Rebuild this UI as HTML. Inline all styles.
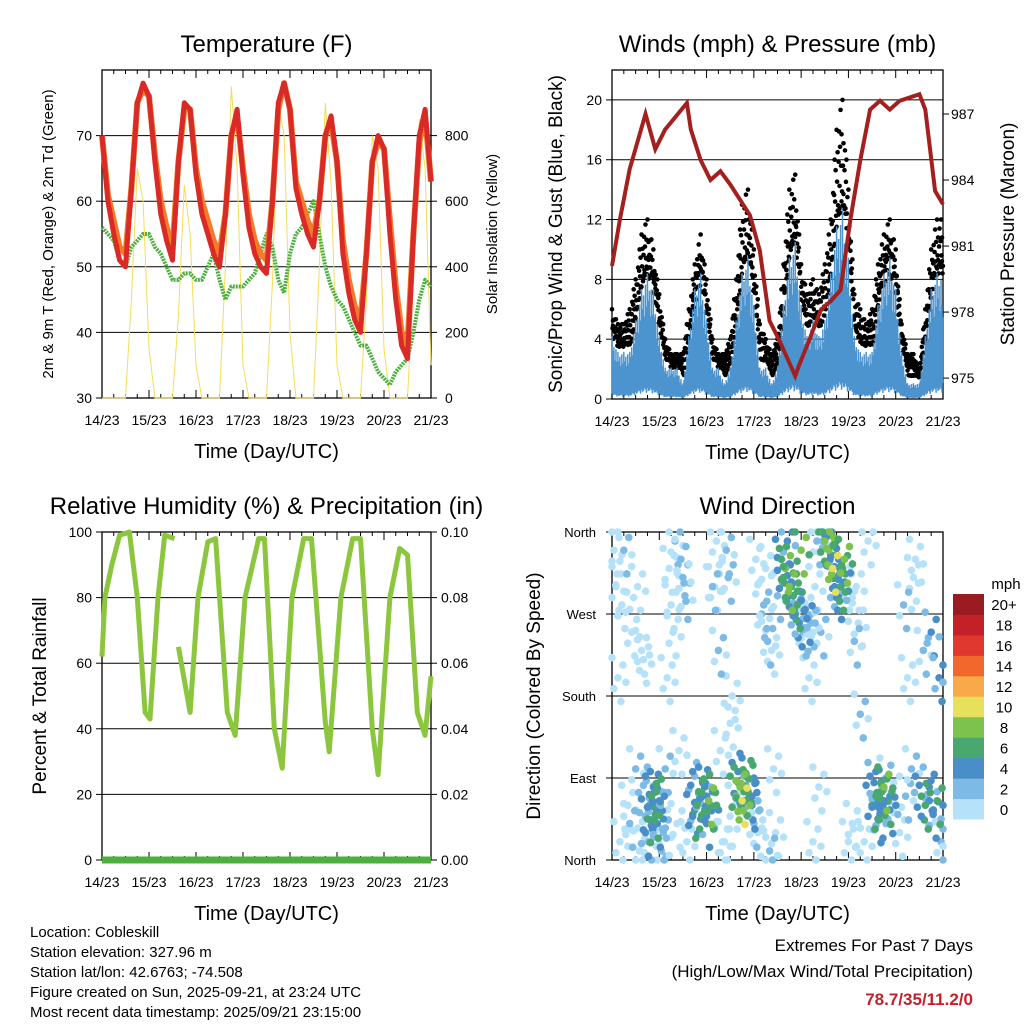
<!DOCTYPE html>
<html><head><meta charset="utf-8"><style>
body{margin:0;background:#fff;width:1024px;height:1024px;overflow:hidden;font-family:"Liberation Sans",sans-serif}
svg text{font-family:"Liberation Sans",sans-serif}
</style></head><body>
<svg id="c" width="1024" height="1024" xmlns="http://www.w3.org/2000/svg"></svg>
<script>
// ---- Temperature (3-hourly from 14/23) ----
const tempRed=[70,60,55,51,50,62,75,78,76,66,58,54,51,66,75,74,64,58,55,52,50,58,70,74,64,56,52,50,49,60,75,78,74,62,58,55,53,60,70,73,66,52,46,42,40,52,66,70,68,55,45,38,36,55,70,74,63];
const tempOrange=[70,61,57,53,52,62,75,77,76,67,60,56,53,66,74,74,65,60,57,54,52,58,70,73,65,58,54,52,51,60,74,78,74,63,60,57,55,60,70,72,66,54,48,44,42,52,66,69,68,57,47,40,38,55,69,73,63];
const dewGreen=[56,55,54,51,50,53,54,55,55,53,52,50,48,48,49,49,48,48,50,52,48,45,47,47,47,48,49,52,55,53,48,46,52,55,56,58,60,55,50,47,45,44,42,40,38,38,36,34,33,32,34,35,36,40,45,48,47];
const solar=[0,0,0,0,0,300,700,600,150,0,0,0,0,250,650,500,100,0,0,0,0,400,950,700,100,0,0,0,0,350,900,800,200,0,0,0,0,400,900,650,100,0,0,0,0,300,800,700,150,0,0,0,0,350,850,700,100];
// ---- Winds (3-hourly) ----
const gust=[6,5,5,6,8,11,12,10,7,4,3,3,3,6,9,11,8,4,3,3,4,8,13,14,10,5,4,3,4,9,14,15,9,7,8,7,9,12,18,20,14,7,6,5,6,9,11,12,10,5,3,3,2,6,10,12,12];
const wind=[4,3,3,3,5,7,8,7,4,2,2,2,1,4,7,8,5,2,2,1,2,5,8,9,6,2,2,1,2,6,9,10,6,4,5,4,5,8,11,12,9,4,3,3,3,6,8,9,7,3,1,1,1,4,7,8,8];
const presHour=[0,4,9,17,22,27,38,40,45,50,55,60,65,70,75,80,85,93,95,100,106,111,116,121,126,131,136,141,146,156,159,164,168];
const presMb=[980.1,982.2,984.5,987.0,985.4,986.3,987.5,986.3,984.9,984.0,984.4,983.8,983.1,982.4,980.8,977.6,976.7,975.1,975.6,976.7,978.1,978.5,979.0,982.2,984.9,987.2,987.6,987.2,987.6,987.9,987.2,983.5,982.9];
// ---- RH ----
const rhHour=[0,1.5,5,9,14,18,22,24.5,28.6,32,37,null,39,45,49,54,58,64,68,73,80,83,88,92,97,103,107,114,116,122,128,132,138,141,147,152,156,161,165,168];
const rhVal=[62,80,90,99,100,80,45,43,80,99,98,null,65,45,80,97,98,45,38,80,98,98,40,28,80,98,98,42,33,80,98,98,40,26,80,95,93,45,38,56];
const precip=[0,0];
// ---- Wind direction ----
const wdHour=[17,18,19,20,21,22,23,18.5,20.5,22.5,41,43,45,47,49,42,44,46,48,50,63,65,67,69,71,64,66,68,70,86,88,90,92,94,96,87,89,91,93,95,97,98,99,108,110,112,114,116,118,109,111,113,115,117,132,134,136,138,140,133,135,137,139,141,157,159,161,163,165,158,162,166,
2,4,6,8,10,12,14,26,28,30,32,34,36,38,52,54,56,58,60,74,76,78,80,82,84,100,102,104,106,122,124,126,128,130,146,148,150,152,154,167,3,15,27,55,79,103,125,149,153,35,1,5,9,13,16,24,25,29,31,33,37,51,53,57,59,61,62,72,73,77,81,83,101,105,107,119,120,123,127,129,142,143,145,147,151,155,160,164,168];
const wdDir=[30,45,60,70,80,50,40,20,65,75,50,60,70,80,65,55,75,85,40,60,70,80,75,90,60,85,65,95,70,330,320,300,290,280,340,310,350,300,270,260,250,255,265,350,340,320,310,300,330,355,335,300,290,320,60,70,50,80,65,85,45,75,90,55,70,60,80,50,65,230,250,200,
300,20,340,60,250,100,10,30,200,280,350,120,310,20,300,230,20,340,150,30,270,320,10,100,290,200,20,350,250,40,300,160,20,350,30,280,200,100,330,20,200,230,100,120,240,300,260,70,310,330,340,280,40,300,220,60,10,320,250,40,290,300,350,20,310,180,60,40,330,280,230,30,260,80,350,300,20,240,60,40,300,270];
const wdSpd=[5,6,4,7,5,6,4,3,5,6,6,7,5,6,8,4,6,5,4,7,8,9,7,6,5,7,10,6,4,7,8,9,6,7,8,6,5,7,4,4,3,3,4,9,8,10,7,6,8,5,6,5,4,7,6,7,5,8,6,4,5,6,3,4,6,7,5,4,6,3,4,4,
1,0,2,1,0,3,1,2,0,1,2,1,3,0,1,2,0,3,1,1,2,0,3,1,2,0,1,2,3,1,0,2,1,0,1,2,0,3,1,2,0,1,3,0,2,1,0,2,1,3,1,0,2,1,0,3,2,1,0,1,2,3,0,1,2,1,0,3,1,2,0,1,3,0,2,1,0,2];
const spdLabels=["0","2","4","6","8","10","12","14","16","18","20+"];
const spdColors=["#b5e2f8","#7dbbe6","#4a8ec8","#48a86f","#7dc24d","#e6e05a","#f8a94a","#f2672c","#e0372f","#c4202a","#9b1c20"];
const dayLabels=["14/23","15/23","16/23","17/23","18/23","19/23","20/23","21/23"];

const svg=document.getElementById('c');const NS="http://www.w3.org/2000/svg";
function el(t,a,p){const e=document.createElementNS(NS,t);for(const k in a)e.setAttribute(k,a[k]);(p||svg).appendChild(e);return e;}
function txt(s,x,y,size,anchor,extra){const e=el('text',Object.assign({x:x,y:y,'font-size':size,'text-anchor':anchor||'middle',fill:'#000'},extra||{}));e.textContent=s;return e;}
function lin(d0,d1,r0,r1){return v=>r0+(v-d0)/(d1-d0)*(r1-r0);}

function frame(name,x0,y0,x1,y1,title,xl){
  const g=el('g',{});
  
  
  el('rect',{x:x0,y:y0,width:x1-x0,height:y1-y0,fill:'none',stroke:'#000','stroke-width':1.3},g);
  const t=txt(title,(x0+x1)/2,54,24);t.setAttribute('y',y0-18);
  
  
  const sx=lin(0,168,x0,x1);
  dayLabels.forEach((d,i)=>{const x=sx(i*24);
    el('line',{x1:x,x2:x,y1:y1,y2:y1-8,stroke:'#000'},g);el('line',{x1:x,x2:x,y1:y0,y2:y0+8,stroke:'#000'},g);
    for(let k=1;k<4&&i<7;k++){const xm=sx(i*24+k*6);el('line',{x1:xm,x2:xm,y1:y1,y2:y1-4,stroke:'#000'},g);el('line',{x1:xm,x2:xm,y1:y0,y2:y0+4,stroke:'#000'},g);}
    const l=txt(d,x,y1+27,14);
    
    });
  const xt=txt(xl,(x0+x1)/2,y1+60,20);
  
  
  return sx;
}
function grid(x0,x1,y){el('line',{x1:x0,x2:x1,y1:y,y2:y,stroke:'#000','stroke-width':1});}
function ylab(s,x,y,size){const e=txt(s,x,y,size,'middle',{transform:`rotate(-90 ${x} ${y})`});}
function pathFrom(xs,ys){let d='',pen=false;for(let i=0;i<xs.length;i++){if(xs[i]==null||ys[i]==null){pen=false;continue;}d+=(pen?'L':'M')+xs[i].toFixed(1)+' '+ys[i].toFixed(1);pen=true;}return d;}

// ===== Panel 1: Temperature =====
(function(){
  const X0=102,X1=431,Y0=70,Y1=398;
  const sx=frame('temperature-panel',X0,Y0,X1,Y1,'Temperature (F)','Time (Day/UTC)');
  const sy=lin(30,80,Y1,Y0), ss=lin(0,1000,Y1,Y0);
  [40,50,60,70].forEach(v=>grid(X0,X1,sy(v)));
  [30,40,50,60,70].forEach(v=>{el('line',{x1:X0,x2:X0-6,y1:sy(v),y2:sy(v),stroke:'#000'});txt(String(v),X0-10,sy(v)+5,14,'end');});
  [0,200,400,600,800].forEach(v=>{el('line',{x1:X1,x2:X1+6,y1:ss(v),y2:ss(v),stroke:'#000'});txt(String(v),X1+14,ss(v)+5,14,'start');});
  ylab('2m & 9m T (Red, Orange) & 2m Td (Green)',53,234,15);
  ylab('Solar Insolation (Yellow)',497,234,15);
  const hrs=tempRed.map((_,i)=>i*3);
  const ps=el('path',{d:pathFrom(hrs.map(sx),solar.map(ss)),fill:'none',stroke:'#f5dc5a','stroke-width':1});
  
  const pg=el('path',{d:pathFrom(hrs.map(sx),dewGreen.map(sy)),fill:'none',stroke:'#4db03e','stroke-width':4,'stroke-dasharray':'2 1','stroke-linejoin':'round'});
  
  const po=el('path',{d:pathFrom(hrs.map(sx),tempOrange.map(sy)),fill:'none',stroke:'#f47a2a','stroke-width':6,'stroke-linejoin':'round'});
  
  const pr=el('path',{d:pathFrom(hrs.map(sx),tempRed.map(sy)),fill:'none',stroke:'#d92a25','stroke-width':5,'stroke-linejoin':'round'});
  
})();

// ===== Panel 2: Winds & Pressure =====
(function(){
  const X0=612,X1=943,Y0=70,Y1=399;
  const sx=frame('winds-panel',X0,Y0,X1,Y1,'Winds (mph) & Pressure (mb)','Time (Day/UTC)');
  const sy=lin(0,22,Y1,Y0), sp=lin(974.05,989,Y1,Y0);
  [4,8,12,16,20].forEach(v=>grid(X0,X1,sy(v)));
  [0,4,8,12,16,20].forEach(v=>{el('line',{x1:X0,x2:X0-6,y1:sy(v),y2:sy(v),stroke:'#000'});txt(String(v),X0-10,sy(v)+5,14,'end');});
  [975,978,981,984,987].forEach(v=>{el('line',{x1:X1,x2:X1+6,y1:sp(v),y2:sp(v),stroke:'#000'});txt(String(v),X1+8,sp(v)+5,14,'start');});
  ylab('Sonic/Prop Wind & Gust (Blue, Black)',562,234,19);
  ylab('Station Pressure (Maroon)',1014,234,19);
  const hrs=gust.map((_,i)=>i*3);
  const gg=el('g',{});
  const bg=el('g',{});
  const fac=[1,0.55,0.8,0.35,0.9,0.6,0.7,0.45,0.95,0.5,0.75,0.65];
  const gf=[1,0.8,0.9,0.7,0.85,0.95,0.75,0.88];
  for(let i=0;i<gust.length-1;i++){
    for(let k=0;k<12;k++){const f=k/12;const h=hrs[i]+f*3;
      const gv=gust[i]+(gust[i+1]-gust[i])*f, wv=wind[i]+(wind[i+1]-wind[i])*f;
      const xx=sx(h);
      el('circle',{cx:xx,cy:sy(Math.max(wv*0.8,gv*gf[k%8])),r:2.3,fill:'#000'},gg);
      if(k%2==0) el('circle',{cx:xx+1,cy:sy(wv*(0.9+0.2*fac[k])+0.5),r:2.2,fill:'#000'},gg);
      el('line',{x1:xx,x2:xx,y1:sy(wv*0.15*fac[(k+5)%12]),y2:sy(wv*fac[k]*1.05),stroke:'#4d94cf','stroke-width':1.5},bg);
    }
  }
  svg.appendChild(bg);
  const pp=el('path',{d:pathFrom(presHour.map(sx),presMb.map(sp)),fill:'none',stroke:'#a3201f','stroke-width':4});
  
})();

// ===== Panel 3: RH =====
(function(){
  const X0=102,X1=431,Y0=532,Y1=860;
  const sx=frame('humidity-panel',X0,Y0,X1,Y1,'Relative Humidity (%) & Precipitation (in)','Time (Day/UTC)');
  const sy=lin(0,100,Y1,Y0), sr=lin(0,0.1,Y1,Y0);
  [20,40,60,80].forEach(v=>grid(X0,X1,sy(v)));
  [0,20,40,60,80,100].forEach(v=>{el('line',{x1:X0,x2:X0-6,y1:sy(v),y2:sy(v),stroke:'#000'});txt(String(v),X0-10,sy(v)+5,14,'end');});
  [0,0.02,0.04,0.06,0.08,0.1].forEach(v=>{el('line',{x1:X1,x2:X1+6,y1:sr(v),y2:sr(v),stroke:'#000'});txt(v.toFixed(2),X1+10,sr(v)+5,14,'start');});
  ylab('Percent & Total Rainfall',46,696,19);
  const pr=el('path',{d:pathFrom([sx(0),sx(168)],precip.map(sr)),fill:'none',stroke:'#4db03e','stroke-width':7});
  
  const ph=el('path',{d:pathFrom(rhHour.map(h=>h==null?null:sx(h)),rhVal.map(v=>v==null?null:sy(v))),fill:'none',stroke:'#8cc63f','stroke-width':5,'stroke-linejoin':'round'});
  
})();

// ===== Panel 4: Wind Direction =====
(function(){
  const X0=612,X1=943,Y0=532,Y1=860;
  const sx=frame('wind-direction-panel',X0,Y0,X1,Y1,'Wind Direction','Time (Day/UTC)');
  const sy=lin(0,360,Y1,Y0);
  const dl=[[0,'North'],[90,'East'],[180,'South'],[270,'West'],[360,'North']];
  dl.forEach(([v,s])=>{if(v>0&&v<360)grid(X0,X1,sy(v));el('line',{x1:X0,x2:X0-6,y1:sy(v),y2:sy(v),stroke:'#000'});el('line',{x1:X1,x2:X1-6,y1:sy(v),y2:sy(v),stroke:'#000'});txt(s,X0-16,sy(v)+5,13,'end');});
  ylab('Direction (Colored By Speed)',540,696,19);
  const pts=el('g',{});
  const order=wdSpd.map((s,i)=>i).sort((a,b)=>wdSpd[a]-wdSpd[b]);
  const jit=[[0,0,0],[5,14,0],[-4,-12,-1],[3,-26,0],[-6,22,-1],[8,-5,-1]];
  order.forEach(i=>{const ci=Math.min(10,Math.floor(wdSpd[i]/2));
    jit.forEach(j=>{
      el('circle',{cx:Math.min(X1,Math.max(X0,sx(wdHour[i])+j[0])),cy:sy(Math.min(360,Math.max(0,wdDir[i]+j[1]))),r:3.8,fill:spdColors[Math.max(0,ci+j[2])]},pts);
    });});
  const cb=el('g',{});
  const cy=lin(0,11,819,594);
  spdColors.forEach((c,i)=>{el('rect',{x:953,y:cy(i+1),width:31,height:cy(i)-cy(i+1)+0.5,fill:c},cb);
    const t=txt(spdLabels[i],1004,(cy(i)+cy(i+1))/2+6,15);});
  txt('mph',1006,589,15);
})();

// ===== Footer =====
const info=["Location: Cobleskill","Station elevation: 327.96 m","Station lat/lon: 42.6763; -74.508","Figure created on Sun, 2025-09-21, at 23:24 UTC","Most recent data timestamp: 2025/09/21 23:15:00"];
info.forEach((s,i)=>{const t=txt(s,30,937+i*20,15,'start');});
const e1=txt('Extremes For Past 7 Days',973,951,17,'end');
const e2=txt('(High/Low/Max Wind/Total Precipitation)',973,977,17,'end');
const e3=txt('78.7/35/11.2/0',973,1005,17,'end',{fill:'#c4202a','font-weight':'bold'});
</script>
</body></html>
